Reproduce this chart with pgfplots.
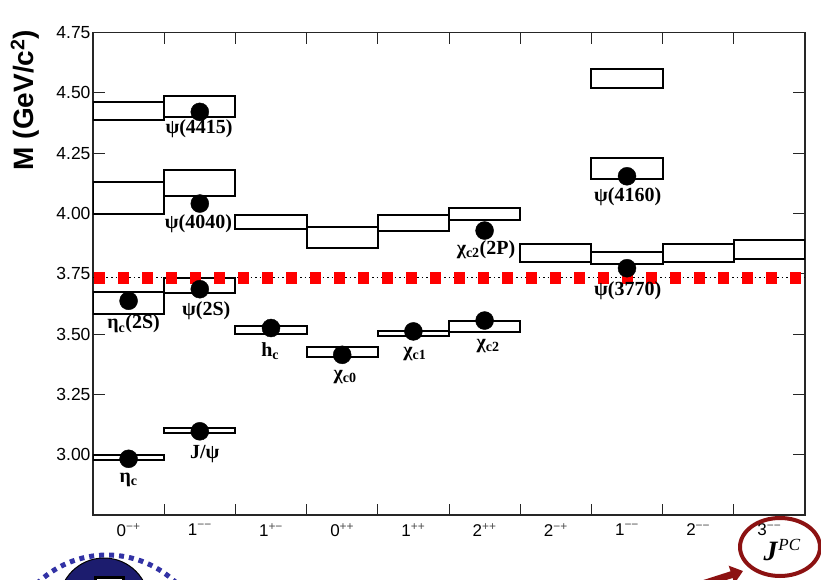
\documentclass[border=0pt]{standalone}
\usepackage{pgfplots}
\pgfplotsset{compat=1.18}
\usepackage{fontspec}
\setmainfont{Liberation Serif}
\setsansfont{Liberation Sans}
\usetikzlibrary{arrows.meta}
\definecolor{navy}{RGB}{28,28,110}
\definecolor{dotblue}{RGB}{50,50,165}
\definecolor{darkred}{RGB}{140,18,18}
\tikzset{
  boxst/.style={black, line width=2pt, line cap=rect, line join=miter, mark=none},
  lab/.style={font=\bfseries\fontsize{20}{20}\selectfont, inner sep=0pt},
  top/.style={font=\sffamily\fontsize{19}{19}\selectfont, inner sep=0pt, anchor=base},
}
\newcommand{\lvl}[4]{\addplot[boxst] coordinates {(#1,#3) (#2,#3) (#2,#4) (#1,#4) (#1,#3)};}
\newcommand{\sps}[1]{\textsuperscript{\color{black!70}#1}}
\begin{document}
\begin{tikzpicture}
\path[use as bounding box] (-93pt,-64pt) rectangle (728pt,515pt);
\begin{axis}[
  at={(0,0)}, anchor=south west,
  scale only axis, width=712pt, height=482.5pt,
  xmin=0, xmax=10, ymin=2.75, ymax=4.75,
  axis line style={line width=1.2pt, black!85},
  tick align=inside,
  every tick/.style={black!85, line width=1pt},
  xtick={0.5,1.5,2.5,3.5,4.5,5.5,6.5,7.5,8.5,9.5},
  xticklabels={0\sps{−+},1\sps{−−},1\sps{+−},0\sps{++},1\sps{++},2\sps{++},2\sps{−+},1\sps{−−},2\sps{−−},3\sps{−−}},
  major x tick style={draw=none},
  minor xtick={1,2,3,4,5,6,7,8,9},
  minor tick length=11pt,
  major tick length=12pt,
  xtick pos=both, xticklabel pos=lower,
  ytick={3,3.25,3.5,3.75,4,4.25,4.5,4.75},
  ytick pos=both, yticklabel pos=left,
  yticklabel style={/pgf/number format/fixed, /pgf/number format/fixed zerofill, /pgf/number format/precision=2, /pgf/number format/assume math mode=true},
  yticklabel style={font=\sffamily\fontsize{17.5}{17.5}\selectfont, xshift=1pt},
  xticklabel style={font=\sffamily\fontsize{17}{17}\selectfont, yshift=-5pt},
]
% levels (column start, column end, low, high)
\lvl{0}{1}{4.388}{4.463}
\lvl{0}{1}{3.996}{4.129}
\lvl{0}{1}{3.585}{3.675}
\lvl{0}{1}{2.978}{3.000}
\lvl{1}{2}{4.398}{4.485}
\lvl{1}{2}{4.071}{4.182}
\lvl{1}{2}{3.672}{3.734}
\lvl{1}{2}{3.091}{3.110}
\lvl{2}{3}{3.934}{3.992}
\lvl{2}{3}{3.499}{3.532}
\lvl{3}{4}{3.855}{3.942}
\lvl{3}{4}{3.406}{3.447}
\lvl{4}{5}{3.927}{3.992}
\lvl{4}{5}{3.494}{3.514}
\lvl{5}{6}{3.972}{4.021}
\lvl{5}{6}{3.510}{3.555}
\lvl{6}{7}{3.799}{3.872}
\lvl{7}{8}{4.519}{4.599}
\lvl{7}{8}{4.143}{4.230}
\lvl{7}{8}{3.789}{3.840}
\lvl{8}{9}{3.799}{3.872}
\lvl{9}{10}{3.810}{3.890}
% measured states
\addplot[only marks, mark=*, mark size=9pt, black] coordinates {
 (0.5,2.983) (0.5,3.638) (1.5,3.097) (1.5,3.686) (1.5,4.041) (1.5,4.421)
 (2.5,3.525) (3.5,3.414) (4.5,3.511) (5.5,3.556) (5.5,3.929) (7.5,3.773) (7.5,4.154)};
% threshold
\addplot[black, line width=1.5pt, dash pattern=on 1.5pt off 3pt, mark=none] coordinates {(0,3.734) (10,3.734)};
\addplot[red, line width=12pt, dash pattern=on 11pt off 13pt, mark=none] coordinates {(0.02,3.734) (10,3.734)};
% state labels
\node[lab] at (axis cs:0.5,2.897) {η\textsubscript{c}};
\node[lab] at (axis cs:0.57,3.541) {η\textsubscript{c}(2S)};
\node[lab] at (axis cs:1.59,3.595) {ψ(2S)};
\node[lab] at (axis cs:1.48,3.959) {ψ(4040)};
\node[lab] at (axis cs:1.49,4.351) {ψ(4415)};
\node[lab] at (axis cs:1.57,3.002) {J/ψ};
\node[lab] at (axis cs:2.49,3.43) {h\textsubscript{c}};
\node[lab] at (axis cs:3.54,3.323) {χ\textsubscript{c0}};
\node[lab] at (axis cs:4.52,3.417) {χ\textsubscript{c1}};
\node[lab] at (axis cs:5.55,3.45) {χ\textsubscript{c2}};
\node[lab] at (axis cs:5.52,3.851) {χ\textsubscript{c2}(2P)};
\node[lab] at (axis cs:7.51,4.07) {ψ(4160)};
\node[lab] at (axis cs:7.51,3.678) {ψ(3770)};
% spectroscopic labels on top
\node[top] at ([yshift=6pt]axis cs:0.5,4.75) {\textsuperscript{1}S\textsubscript{0}};
\node[top] at ([yshift=6pt]axis cs:1.5,4.75) {\textsuperscript{3}S\textsubscript{1}};
\node[top] at ([yshift=6pt]axis cs:2.5,4.75) {\textsuperscript{1}P\textsubscript{1}};
\node[top] at ([yshift=6pt]axis cs:3.5,4.75) {\textsuperscript{3}P\textsubscript{0}};
\node[top] at ([yshift=6pt]axis cs:4.5,4.75) {\textsuperscript{3}P\textsubscript{1}};
\node[top] at ([yshift=6pt]axis cs:5.5,4.75) {\textsuperscript{3}P\textsubscript{2}};
\node[top] at ([yshift=6pt]axis cs:6.5,4.75) {\textsuperscript{1}D\textsubscript{2}};
\node[top] at ([yshift=6pt]axis cs:7.5,4.75) {\textsuperscript{3}D\textsubscript{1}};
\node[top] at ([yshift=6pt]axis cs:8.5,4.75) {\textsuperscript{3}D\textsubscript{2}};
\node[top] at ([yshift=6pt]axis cs:9.5,4.75) {\textsuperscript{3}D\textsubscript{3}};
\end{axis}
% y axis label
\node[rotate=90, font=\sffamily\bfseries\fontsize{28}{28}\selectfont] at (-68pt,415pt) {M (GeV/c\textsuperscript{2})};
% logo decoration bottom left
\draw[dotblue, line width=5pt, dash pattern=on 5pt off 5pt] (14pt,-140pt) circle (100pt);
\draw[fill=navy, draw=black, line width=1pt] (11pt,-88pt) circle (45pt);
\draw[fill=white, draw=black, line width=3pt] (2pt,-62pt) rectangle (30pt,-80pt);
% J^PC annotation
\draw[darkred, line width=4pt] (687pt,-32pt) ellipse (40pt and 29pt);
\node[font=\fontsize{17}{17}\selectfont] at (689pt,-35pt) {\textbf{\textit{\fontsize{28}{28}\selectfont J}}\raisebox{10pt}{\textit{PC}}};
\draw[darkred, line width=7pt, -{Triangle[length=12pt,width=18pt]}] (600pt,-72pt) -- (650pt,-56pt);
\end{tikzpicture}
\end{document}
